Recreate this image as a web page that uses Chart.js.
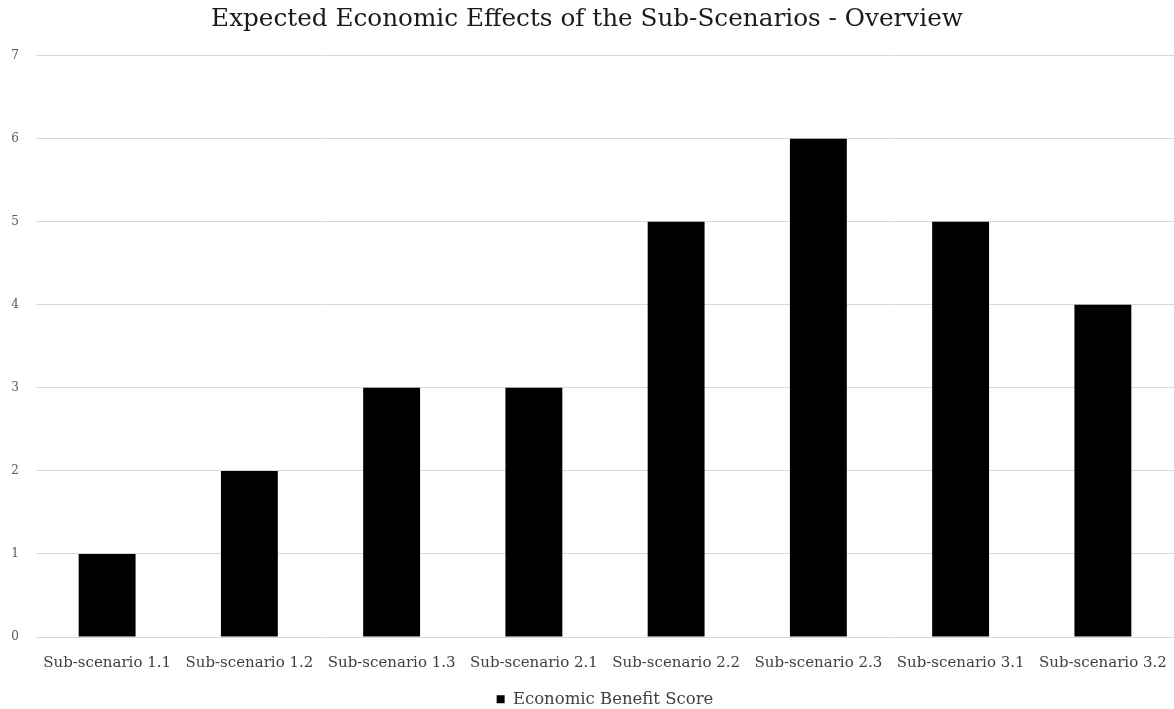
<!DOCTYPE html>
<html>
<head>
<meta charset="utf-8">
<script src="https://cdn.jsdelivr.net/npm/chart.js@4/dist/chart.umd.min.js"></script>
<style>
  html, body { margin: 0; padding: 0; background: #ffffff; }
  #wrap { width: 1174px; height: 709px; }
</style>
</head>
<body>
<div id="wrap"><canvas id="chart" width="1174" height="709"></canvas></div>
<script>
// Sub-scenario categories and their economic benefit scores
const categories = [
  'Sub-scenario 1.1', 'Sub-scenario 1.2', 'Sub-scenario 1.3', 'Sub-scenario 2.1',
  'Sub-scenario 2.2', 'Sub-scenario 2.3', 'Sub-scenario 3.1', 'Sub-scenario 3.2'
];
const benefitScores = [1, 2, 3, 3, 5, 6, 5, 4];
const seriesName = 'Economic Benefit Score';
const chartTitle = 'Expected Economic Effects of the Sub-Scenarios - Overview';
const yMin = 0, yMax = 7, yStep = 1;

const serif = "'DejaVu Serif', 'Liberation Serif', serif";

new Chart(document.getElementById('chart'), {
  type: 'bar',
  data: {
    labels: categories,
    datasets: [{
      label: seriesName,
      data: benefitScores,
      backgroundColor: '#000000',
      borderWidth: 0,
      categoryPercentage: 1.0,
      barPercentage: 0.4
    }]
  },
  options: {
    responsive: false,
    animation: false,
    layout: { padding: { left: 0, right: 0, top: 5, bottom: 2 } },
    plugins: {
      title: {
        display: true,
        text: chartTitle,
        color: '#1a1a1a',
        font: { family: serif, size: 24.7, weight: 'normal' },
        padding: { top: 0, bottom: 21 }
      },
      legend: {
        display: true,
        position: 'bottom',
        fullSize: false,
        maxHeight: 20,
        labels: {
          color: '#404040',
          font: { family: serif, size: 16.5 },
          boxWidth: 8,
          boxHeight: 8,
          padding: 4
        }
      },
      tooltip: { enabled: false }
    },
    scales: {
      x: {
        grid: { display: false, drawTicks: false },
        border: { display: false },
        ticks: {
          color: '#404040',
          font: { family: serif, size: 15 },
          padding: 17,
          maxRotation: 0,
          autoSkip: false
        },
        afterFit(scale) {
          scale.height = 50;
          scale.paddingLeft = 0;
          scale.paddingRight = 0;
        }
      },
      y: {
        min: yMin,
        max: yMax,
        grid: { color: '#d9d9d9', lineWidth: 1, drawTicks: false },
        border: { display: false },
        ticks: {
          stepSize: yStep,
          color: '#595959',
          font: { family: serif, size: 12 },
          padding: 17
        },
        afterFit(scale) { scale.width = 36; }
      }
    }
  }
});
</script>
</body>
</html>
